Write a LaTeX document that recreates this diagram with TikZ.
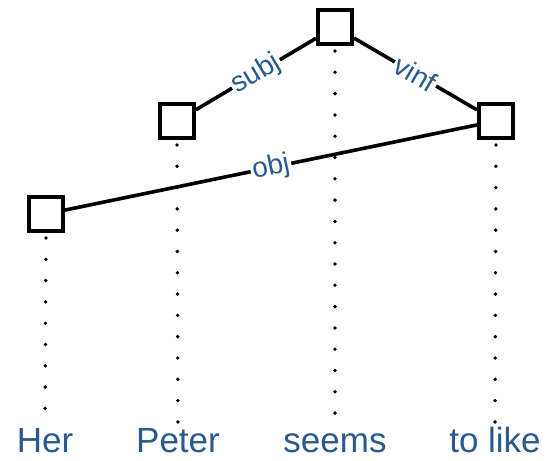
\documentclass[tikz,border=0pt]{standalone}
\usepackage{fontspec}
\setmainfont{Liberation Sans}
\usepackage{tikz}
\usetikzlibrary{positioning,decorations.markings}
\tikzset{>=latex}
\usepackage{xcolor}
\definecolor{wordblue}{RGB}{40,90,142}

\begin{document}
\begin{tikzpicture}[x=1pt,y=-1pt,
    head/.style={draw=black,line width=4pt,minimum size=34pt,inner sep=0pt,fill=white},
    word/.style={text=wordblue,inner sep=1pt,anchor=base,font=\fontsize{35}{38}\selectfont},
    deplbl/.style={text=wordblue,fill=white,inner sep=2pt,sloped,font=\fontsize{28}{30}\selectfont},
    dep/.style={draw=black,line width=3.6pt},
    % dotted projection: one dot every 21.3pt
    proj/.style={decoration={markings,
        mark=between positions 5pt and 1 step 21.3pt with {\fill[black] (0,0) circle (1.9pt);}},
        decorate}
  ]
    \useasboundingbox (0,0) rectangle (550,461);

    % the words, on one baseline
    \node[word] (her)    at (45,452)  {Her};
    \node[word] (peter)  at (178,452) {Peter};
    \node[word] (seems)  at (335,452) {seems};
    \node[word] (tolike) at (495,452) {to like};

    % nodes of the tree
    \node[head] (nseems)  at (335,27)  {};
    \node[head] (npeter)  at (177,121) {};
    \node[head] (ntolike) at (496,121) {};
    \node[head] (nher)    at (46,214)  {};

    % projection lines down to the words
    \path[proj] (nher.south)    -- (her.north);
    \path[proj] (npeter.south)  -- (peter.north);
    \path[proj] (nseems.south)  -- (seems.north);
    \path[proj] (ntolike.south) -- (tolike.north);

    % dependencies
    \draw[dep] (npeter) -- node[deplbl] {subj} (nseems);
    \draw[dep] (nseems) -- node[deplbl] {vinf} (ntolike);
    \draw[dep] (nher) -- node[deplbl] {obj} (ntolike);

\end{tikzpicture}
\end{document}
